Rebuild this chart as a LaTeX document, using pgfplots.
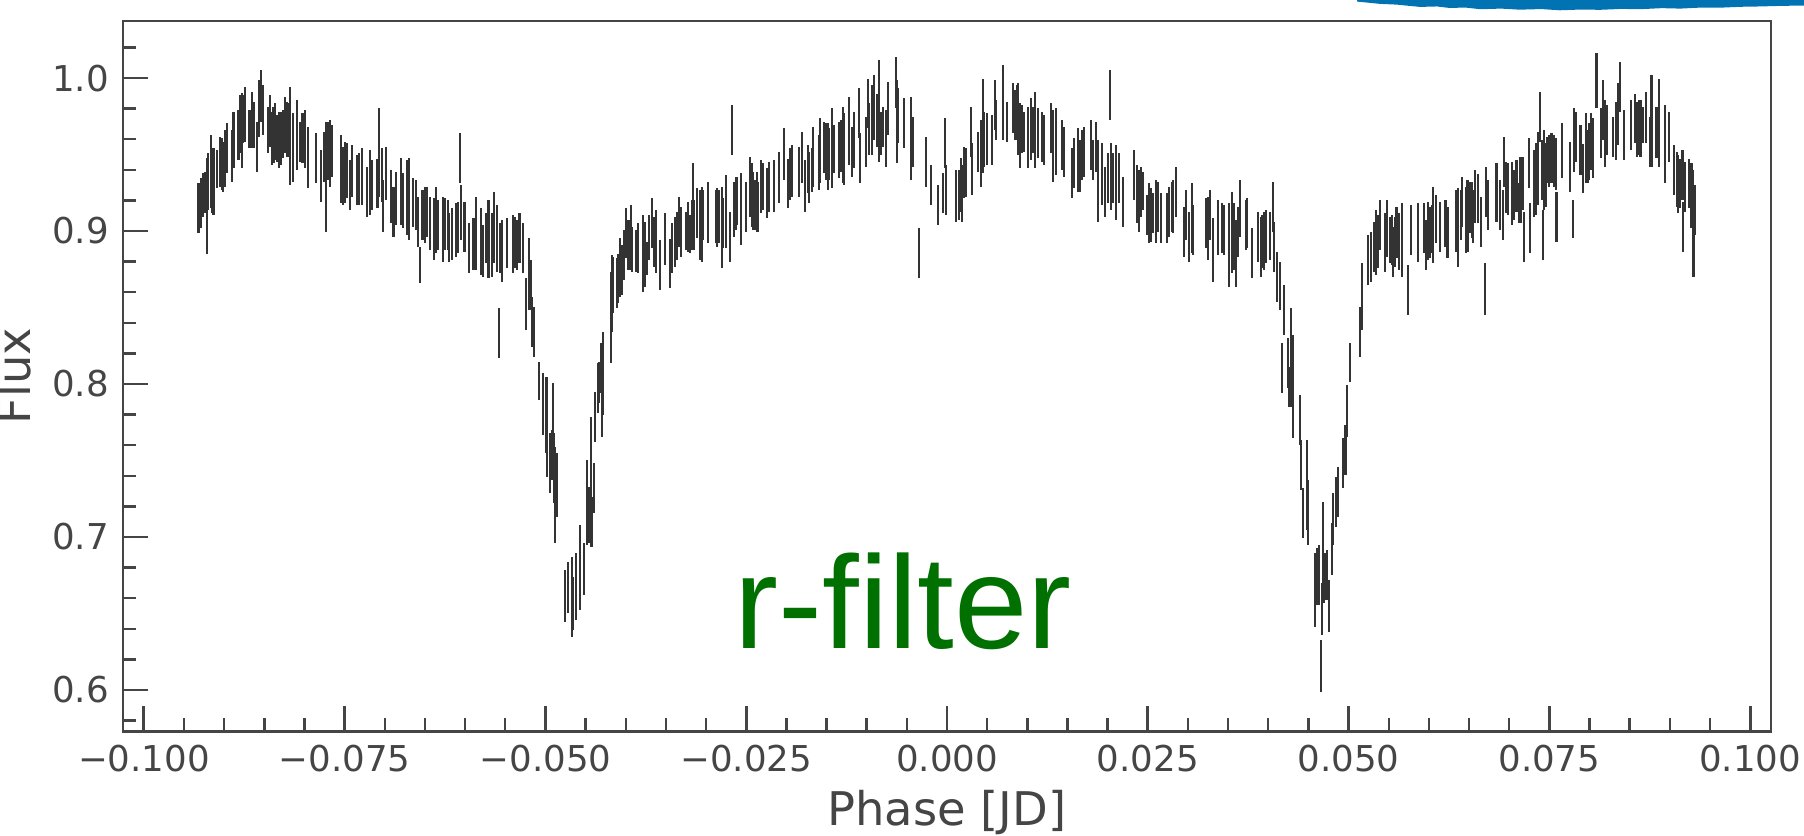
\documentclass[border=0pt]{standalone}
\usepackage{fontspec}
\setmainfont{DejaVu Sans}
\newfontfamily\arialfont{Liberation Sans}
\usepackage{pgfplots}
\pgfplotsset{compat=1.18}
\definecolor{axgray}{HTML}{454545}
\definecolor{barcol}{HTML}{333333}
\definecolor{rfgreen}{HTML}{007000}
\definecolor{cbblue}{HTML}{0173B2}
\pgfplotsset{lcbar/.style={only marks, mark=*, mark size=0pt,
  mark options={draw=none, fill=none},
  error bars/.cd, y dir=both, y explicit, error mark=none,
  error bar style={draw=barcol, line width=0.55pt}}}
\begin{document}
\begin{tikzpicture}
\begin{axis}[
  name=ax, at={(0pt,0pt)}, anchor=south west,
  scale only axis, width=412pt, height=177.6pt,
  xmin=-0.1026, xmax=0.1026, ymin=0.5729, ymax=1.0373,
  clip=false,
  axis line style={axgray, line width=0.7pt},
  tick align=inside,
  xtick pos=left, ytick pos=left,
  xtick={-0.1,-0.075,-0.05,-0.025,0,0.025,0.05,0.075,0.1},
  xticklabels={−0.100,−0.075,−0.050,−0.025,0.000,0.025,0.050,0.075,0.100},
  ytick={0.6,0.7,0.8,0.9,1.0},
  yticklabels={0.6,0.7,0.8,0.9,1.0},
  minor x tick num=4,
  minor ytick={0.58,0.62,0.64,0.66,0.68,0.72,0.74,0.76,0.78,0.82,0.84,0.86,0.88,0.92,0.94,0.96,0.98,1.02},
  major tick length=6.25pt, minor tick length=3.25pt,
  major tick style={axgray, line width=0.7pt},
  minor tick style={axgray, line width=0.6pt},
  tick label style={font=\fontsize{8.9}{10}\selectfont, text=axgray},
  /pgf/number format/assume math mode=true,
  xlabel={Phase [JD]}, ylabel={Flux},
  every axis x label/.style={at={(axis description cs:0.5,-0.1318)}, anchor=base, font=\fontsize{11.6}{13}\selectfont, text=axgray},
  every axis y label/.style={at={(axis description cs:-0.0564,0.5)}, rotate=90, anchor=base, font=\fontsize{11.6}{13}\selectfont, text=axgray},
]
% segment A
\addplot[lcbar] table[x=x,y=y,y error=e] {
x y e
-0.09321 0.9148 0.0163
-0.09292 0.9181 0.0163
-0.09259 0.9235 0.0142
-0.09238 0.9251 0.0136
-0.09217 0.9164 0.0311
-0.09197 0.9322 0.0185
-0.09168 0.9388 0.0240
-0.09147 0.9279 0.0163
-0.09134 0.9322 0.0218
-0.09085 0.9404 0.0125
-0.09051 0.9453 0.0163
-0.09031 0.9437 0.0169
-0.09010 0.9420 0.0163
-0.08993 0.9475 0.0185
-0.08968 0.9540 0.0163
-0.08906 0.9491 0.0169
-0.08885 0.9595 0.0185
-0.08823 0.9627 0.0163
-0.08802 0.9698 0.0191
-0.08782 0.9655 0.0245
-0.08761 0.9731 0.0158
-0.08740 0.9764 0.0180
-0.08686 0.9666 0.0125
-0.08649 0.9725 0.0185
-0.08628 0.9693 0.0153
-0.08595 0.9551 0.0163
-0.08566 0.9802 0.0185
-0.08541 0.9883 0.0169
-0.08520 0.9791 0.0163
-0.08458 0.9660 0.0153
-0.08429 0.9720 0.0169
-0.08408 0.9606 0.0174
-0.08387 0.9627 0.0185
-0.08367 0.9649 0.0185
-0.08338 0.9606 0.0153
-0.08317 0.9595 0.0185
-0.08296 0.9606 0.0174
-0.08271 0.9633 0.0158
-0.08242 0.9693 0.0185
-0.08221 0.9666 0.0180
-0.08201 0.9660 0.0174
-0.08180 0.9622 0.0321
-0.08147 0.9546 0.0223
-0.08089 0.9627 0.0229
-0.08055 0.9584 0.0131
-0.08026 0.9606 0.0163
-0.07993 0.9600 0.0191
-0.07952 0.9480 0.0202
-0.07860 0.9475 0.0163
-0.07798 0.9360 0.0169
-0.07752 0.9486 0.0163
-0.07732 0.9355 0.0360
-0.07711 0.9524 0.0191
-0.07682 0.9508 0.0218
-0.07653 0.9524 0.0169
-0.07549 0.9404 0.0223
-0.07524 0.9360 0.0191
-0.07495 0.9382 0.0202
-0.07466 0.9393 0.0180
-0.07433 0.9301 0.0163
-0.07404 0.9393 0.0169
-0.07350 0.9333 0.0163
-0.07321 0.9339 0.0169
-0.07288 0.9355 0.0185
-0.07217 0.9257 0.0163
-0.07184 0.9317 0.0212
-0.07163 0.9301 0.0163
-0.07092 0.9311 0.0163
-0.07068 0.9513 0.0289
-0.07039 0.9366 0.0174
-0.07018 0.9164 0.0169
-0.06989 0.9377 0.0174
-0.06922 0.9224 0.0174
-0.06893 0.9126 0.0163
-0.06864 0.9213 0.0174
-0.06802 0.9257 0.0218
-0.06769 0.9197 0.0180
-0.06719 0.9219 0.0245
-0.06694 0.9208 0.0267
-0.06652 0.9186 0.0158
-0.06611 0.9170 0.0163
-0.06582 0.9061 0.0163
-0.06561 0.8778 0.0120
-0.06532 0.9104 0.0163
-0.06499 0.9104 0.0185
-0.06470 0.9126 0.0163
-0.06437 0.9050 0.0174
-0.06387 0.9012 0.0202
-0.06362 0.9072 0.0218
-0.06345 0.9039 0.0163
-0.06271 0.9012 0.0212
-0.06250 0.9045 0.0169
-0.06217 0.9039 0.0163
-0.06196 0.8957 0.0158
-0.06167 0.8979 0.0169
-0.06117 0.9006 0.0174
-0.06092 0.9023 0.0169
-0.06063 0.9475 0.0163
-0.06055 0.9121 0.0180
-0.06009 0.9028 0.0163
-0.05951 0.8887 0.0163
-0.05897 0.8914 0.0169
-0.05868 0.8985 0.0240
-0.05806 0.8930 0.0218
-0.05773 0.8870 0.0169
-0.05744 0.8952 0.0163
-0.05710 0.8946 0.0256
};
% segment B: first eclipse
\addplot[lcbar] table[x=x,y=y,y error=e] {
x y e
-0.05669 0.8908 0.0207
-0.05640 0.9023 0.0234
-0.05607 0.8952 0.0218
-0.05574 0.8331 0.0163
-0.05565 0.8887 0.0163
-0.05544 0.8870 0.0202
-0.05482 0.8919 0.0163
-0.05408 0.8914 0.0191
-0.05378 0.8925 0.0169
-0.05358 0.8908 0.0163
-0.05324 0.8952 0.0163
-0.05283 0.8887 0.0163
-0.05242 0.8522 0.0169
-0.05200 0.8718 0.0234
-0.05183 0.8647 0.0163
-0.05163 0.8407 0.0163
-0.05138 0.8342 0.0163
-0.05076 0.8020 0.0125
-0.05026 0.7868 0.0202
-0.04993 0.7797 0.0251
-0.04976 0.7721 0.0327
-0.04943 0.7481 0.0196
-0.04922 0.7536 0.0163
-0.04901 0.7841 0.0163
-0.04897 0.7448 0.0229
-0.04880 0.7274 0.0316
-0.04860 0.7339 0.0207
-0.04756 0.6615 0.0169
-0.04723 0.6669 0.0169
-0.04673 0.6609 0.0261
-0.04652 0.6566 0.0174
-0.04619 0.6675 0.0218
-0.04569 0.6800 0.0278
-0.04515 0.6789 0.0169
-0.04478 0.7225 0.0278
-0.04461 0.7143 0.0185
-0.04436 0.7579 0.0207
-0.04432 0.7154 0.0218
-0.04420 0.7100 0.0163
-0.04395 0.7318 0.0163
-0.04382 0.7786 0.0163
-0.04349 0.7971 0.0163
-0.04333 0.8010 0.0136
-0.04312 0.8102 0.0163
-0.04299 0.7841 0.0185
-0.04279 0.8069 0.0272
-0.04187 0.8434 0.0300
-0.04171 0.8592 0.0251
-0.04154 0.8647 0.0185
-0.04113 0.8658 0.0163
-0.04092 0.8690 0.0163
-0.04071 0.8761 0.0191
-0.04042 0.8745 0.0163
-0.04021 0.8843 0.0163
-0.04001 0.8985 0.0163
-0.03967 0.8908 0.0163
-0.03938 0.8957 0.0212
-0.03918 0.8881 0.0147
-0.03876 0.8870 0.0136
-0.03851 0.8887 0.0163
-0.03781 0.8854 0.0251
-0.03760 0.8848 0.0212
-0.03739 0.8821 0.0109
-0.03710 0.8957 0.0147
-0.03669 0.9050 0.0163
-0.03644 0.8930 0.0163
-0.03623 0.8930 0.0207
-0.03573 0.8778 0.0163
-0.03511 0.8946 0.0169
};
% segment C
\addplot[lcbar] table[x=x,y=y,y error=e] {
x y e
-0.03449 0.8785 0.0160
-0.03420 0.8887 0.0163
-0.03386 0.8930 0.0163
-0.03366 0.8968 0.0158
-0.03337 0.9061 0.0163
-0.03312 0.8995 0.0163
-0.03250 0.9001 0.0125
-0.03220 0.9028 0.0163
-0.03200 0.8979 0.0125
-0.03179 0.9039 0.0163
-0.03158 0.9279 0.0163
-0.03154 0.9039 0.0163
-0.03117 0.9115 0.0163
-0.03075 0.9039 0.0229
-0.03054 0.9045 0.0245
-0.03034 0.9104 0.0163
-0.02971 0.9121 0.0202
-0.02876 0.9094 0.0174
-0.02859 0.9088 0.0191
-0.02834 0.9094 0.0174
-0.02805 0.9023 0.0267
-0.02785 0.9050 0.0163
-0.02751 0.9126 0.0240
-0.02702 0.8963 0.0163
-0.02681 0.9660 0.0163
-0.02652 0.9143 0.0180
-0.02627 0.9181 0.0174
-0.02610 0.9197 0.0158
-0.02569 0.9143 0.0234
-0.02502 0.9159 0.0163
-0.02453 0.9290 0.0196
-0.02432 0.9235 0.0207
-0.02411 0.9197 0.0191
-0.02390 0.9170 0.0163
-0.02370 0.9192 0.0196
-0.02349 0.9159 0.0163
-0.02320 0.9290 0.0174
-0.02287 0.9290 0.0153
-0.02245 0.9246 0.0163
-0.02216 0.9290 0.0163
-0.02154 0.9295 0.0169
-0.02092 0.9350 0.0169
-0.02029 0.9502 0.0169
-0.01975 0.9311 0.0163
-0.01955 0.9371 0.0169
-0.01926 0.9393 0.0169
-0.01838 0.9388 0.0163
-0.01809 0.9480 0.0169
-0.01768 0.9295 0.0169
-0.01735 0.9404 0.0158
-0.01714 0.9350 0.0169
-0.01685 0.9399 0.0142
-0.01664 0.9486 0.0196
-0.01594 0.9448 0.0180
-0.01581 0.9524 0.0212
-0.01531 0.9546 0.0169
-0.01506 0.9518 0.0185
-0.01486 0.9486 0.0218
-0.01465 0.9502 0.0169
-0.01436 0.9540 0.0261
-0.01403 0.9535 0.0158
-0.01340 0.9529 0.0185
-0.01320 0.9557 0.0169
-0.01299 0.9562 0.0251
-0.01278 0.9535 0.0234
-0.01224 0.9655 0.0223
-0.01187 0.9518 0.0163
-0.01158 0.9595 0.0185
-0.01091 0.9769 0.0163
-0.01087 0.9475 0.0163
-0.01008 0.9584 0.0163
-0.00988 0.9834 0.0163
-0.00967 0.9666 0.0169
-0.00930 0.9725 0.0229
-0.00909 0.9807 0.0212
-0.00876 0.9725 0.0174
-0.00847 0.9954 0.0163
-0.00842 0.9622 0.0169
-0.00826 0.9638 0.0142
-0.00793 0.9682 0.0131
-0.00764 0.9606 0.0185
-0.00739 0.9802 0.0174
-0.00635 0.9971 0.0169
-0.00627 0.9715 0.0272
-0.00606 0.9753 0.0180
-0.00531 0.9704 0.0163
-0.00448 0.9606 0.0272
-0.00427 0.9584 0.0163
-0.00344 0.8854 0.0163
-0.00261 0.9453 0.0163
-0.00203 0.9301 0.0131
-0.00116 0.9170 0.0131
};
% segment D
\addplot[lcbar] table[x=x,y=y,y error=e] {
x y e
-0.00054 0.9246 0.0131
-0.00025 0.9573 0.0163
-0.00012 0.9268 0.0163
0.00112 0.9230 0.0169
0.00149 0.9235 0.0163
0.00174 0.9301 0.0174
0.00191 0.9246 0.0185
0.00216 0.9382 0.0169
0.00232 0.9382 0.0158
0.00295 0.9649 0.0163
0.00315 0.9404 0.0169
0.00390 0.9518 0.0131
0.00419 0.9508 0.0218
0.00444 0.9834 0.0163
0.00448 0.9540 0.0163
0.00465 0.9600 0.0180
0.00494 0.9600 0.0169
0.00556 0.9595 0.0163
0.00598 0.9823 0.0163
0.00606 0.9725 0.0131
0.00693 0.9922 0.0163
0.00701 0.9725 0.0131
0.00743 0.9715 0.0131
0.00826 0.9802 0.0163
0.00847 0.9758 0.0163
0.00867 0.9774 0.0180
0.00888 0.9731 0.0234
0.00909 0.9622 0.0212
0.00930 0.9666 0.0158
0.00963 0.9649 0.0131
0.01013 0.9611 0.0202
0.01042 0.9666 0.0202
0.01067 0.9660 0.0153
0.01096 0.9660 0.0251
0.01129 0.9638 0.0163
0.01179 0.9616 0.0163
0.01208 0.9595 0.0163
0.01295 0.9671 0.0163
0.01324 0.9557 0.0234
0.01357 0.9584 0.0218
0.01428 0.9562 0.0163
0.01457 0.9518 0.0163
0.01560 0.9377 0.0163
0.01581 0.9442 0.0163
0.01627 0.9464 0.0207
0.01656 0.9426 0.0169
0.01677 0.9497 0.0163
0.01706 0.9518 0.0163
0.01793 0.9562 0.0163
0.01822 0.9464 0.0131
0.01855 0.9551 0.0163
0.01876 0.9328 0.0267
0.01926 0.9371 0.0202
0.01967 0.9257 0.0163
0.02009 0.9344 0.0163
0.02029 0.9889 0.0163
0.02042 0.9355 0.0218
0.02071 0.9344 0.0163
0.02100 0.9317 0.0245
0.02141 0.9344 0.0163
0.02187 0.9192 0.0163
0.02328 0.9366 0.0163
0.02361 0.9241 0.0191
0.02390 0.9197 0.0202
0.02411 0.9257 0.0163
0.02436 0.9262 0.0125
0.02486 0.9104 0.0131
0.02519 0.9115 0.0196
0.02540 0.9104 0.0174
0.02569 0.9115 0.0131
0.02602 0.9126 0.0207
0.02631 0.9159 0.0163
0.02660 0.9083 0.0163
0.02735 0.9083 0.0163
0.02764 0.9126 0.0163
0.02805 0.9159 0.0163
0.02818 0.9159 0.0174
0.02847 0.9257 0.0163
0.02951 0.8995 0.0163
0.02976 0.9104 0.0163
0.03013 0.8963 0.0163
0.03046 0.9083 0.0229
0.03067 0.9006 0.0163
0.03225 0.9050 0.0163
0.03254 0.9017 0.0207
0.03274 0.9104 0.0163
0.03308 0.8876 0.0207
0.03378 0.9023 0.0180
0.03420 0.9017 0.0163
0.03449 0.9006 0.0163
0.03515 0.8908 0.0272
0.03544 0.8990 0.0267
0.03573 0.8963 0.0218
0.03598 0.8854 0.0218
0.03627 0.8995 0.0163
0.03648 0.9148 0.0185
};
% segment E: second eclipse
\addplot[lcbar] table[x=x,y=y,y error=e] {
x y e
0.03723 0.9039 0.0163
0.03739 0.9050 0.0163
0.03793 0.8854 0.0163
0.03876 0.8963 0.0163
0.03905 0.8897 0.0196
0.03926 0.8930 0.0174
0.03947 0.8936 0.0191
0.03967 0.8963 0.0174
0.04021 0.8968 0.0158
0.04055 0.9159 0.0163
0.04075 0.8897 0.0163
0.04104 0.8701 0.0163
0.04146 0.8641 0.0158
0.04167 0.8102 0.0163
0.04200 0.8483 0.0163
0.04241 0.8135 0.0163
0.04262 0.7982 0.0131
0.04279 0.8331 0.0163
0.04283 0.8010 0.0158
0.04304 0.8151 0.0169
0.04308 0.7813 0.0169
0.04395 0.7764 0.0163
0.04403 0.7470 0.0163
0.04436 0.7154 0.0163
0.04478 0.7339 0.0294
0.04499 0.7160 0.0212
0.04582 0.6653 0.0240
0.04602 0.6740 0.0185
0.04636 0.6751 0.0196
0.04652 0.6157 0.0169
0.04665 0.6528 0.0169
0.04685 0.7062 0.0169
0.04689 0.6729 0.0163
0.04710 0.6740 0.0153
0.04735 0.6751 0.0163
0.04760 0.6550 0.0169
0.04789 0.6920 0.0169
0.04810 0.7116 0.0169
0.04843 0.7231 0.0163
0.04872 0.7296 0.0163
0.04926 0.7481 0.0163
0.04963 0.7568 0.0163
0.04984 0.7824 0.0169
0.05017 0.8140 0.0125
0.05142 0.8342 0.0163
0.05163 0.8571 0.0218
0.05246 0.8810 0.0163
0.05275 0.8832 0.0163
0.05320 0.8897 0.0163
0.05341 0.8925 0.0212
0.05370 0.8930 0.0174
0.05391 0.9039 0.0163
0.05457 0.8925 0.0191
0.05474 0.9017 0.0185
0.05515 0.8941 0.0153
0.05536 0.8941 0.0163
0.05557 0.8865 0.0163
0.05578 0.8930 0.0163
0.05598 0.8990 0.0169
0.05623 0.8930 0.0185
};
% segment F
\addplot[lcbar] table[x=x,y=y,y error=e] {
x y e
0.05661 0.8941 0.0240
0.05744 0.8614 0.0163
0.05773 0.9006 0.0163
0.05868 0.8990 0.0191
0.05939 0.9017 0.0163
0.05964 0.8908 0.0163
0.05993 0.9001 0.0191
0.06013 0.8990 0.0169
0.06034 0.9012 0.0158
0.06055 0.9039 0.0251
0.06084 0.9077 0.0158
0.06138 0.9028 0.0163
0.06208 0.9050 0.0153
0.06233 0.8990 0.0169
0.06337 0.9066 0.0202
0.06366 0.9023 0.0256
0.06395 0.9104 0.0163
0.06416 0.9192 0.0163
0.06462 0.9072 0.0218
0.06482 0.9099 0.0234
0.06511 0.9153 0.0169
0.06532 0.9137 0.0185
0.06553 0.9094 0.0174
0.06574 0.9224 0.0174
0.06615 0.9213 0.0163
0.06648 0.9061 0.0163
0.06698 0.8620 0.0169
0.06711 0.9257 0.0163
0.06740 0.9170 0.0163
0.06843 0.9251 0.0191
0.06885 0.9170 0.0163
0.06918 0.9104 0.0163
0.06939 0.9453 0.0163
0.06960 0.9284 0.0169
0.06989 0.9273 0.0169
0.07030 0.9246 0.0207
0.07059 0.9235 0.0163
0.07092 0.9295 0.0169
0.07121 0.9181 0.0131
0.07142 0.9268 0.0218
0.07175 0.9311 0.0174
0.07184 0.8963 0.0163
0.07250 0.9442 0.0163
0.07259 0.9017 0.0163
0.07308 0.9311 0.0218
0.07333 0.9339 0.0234
0.07354 0.9409 0.0240
0.07383 0.9747 0.0163
0.07404 0.9399 0.0196
0.07416 0.8974 0.0163
0.07429 0.9399 0.0261
0.07454 0.9366 0.0207
0.07474 0.9464 0.0153
0.07495 0.9459 0.0169
0.07528 0.9475 0.0163
0.07557 0.9459 0.0169
0.07578 0.9437 0.0169
0.07590 0.9094 0.0163
0.07661 0.9524 0.0180
0.07757 0.9420 0.0163
0.07790 0.9077 0.0125
0.07806 0.9595 0.0207
0.07831 0.9616 0.0163
0.07889 0.9529 0.0163
0.07922 0.9409 0.0163
0.07952 0.9540 0.0229
0.07976 0.9486 0.0174
0.07997 0.9518 0.0185
0.08018 0.9584 0.0185
0.08047 0.9540 0.0196
0.08088 0.9981 0.0180
0.08142 0.9638 0.0163
0.08171 0.9791 0.0196
0.08192 0.9638 0.0218
0.08213 0.9660 0.0163
0.08288 0.9616 0.0131
0.08329 0.9655 0.0191
0.08358 0.9764 0.0202
0.08379 0.9943 0.0163
0.08429 0.9627 0.0163
0.08512 0.9693 0.0163
0.08566 0.9736 0.0163
0.08595 0.9666 0.0180
0.08620 0.9676 0.0180
0.08636 0.9671 0.0185
0.08661 0.9693 0.0120
0.08699 0.9742 0.0169
0.08752 0.9584 0.0163
0.08773 0.9856 0.0163
0.08777 0.9584 0.0163
0.08835 0.9644 0.0169
0.08865 0.9834 0.0163
0.08869 0.9584 0.0163
0.08939 0.9567 0.0256
0.08993 0.9616 0.0163
0.09051 0.9399 0.0163
0.09085 0.9339 0.0180
0.09105 0.9306 0.0191
0.09126 0.9311 0.0163
0.09159 0.9366 0.0163
0.09163 0.9028 0.0163
0.09188 0.9290 0.0163
0.09242 0.9311 0.0163
0.09271 0.9230 0.0212
0.09292 0.9213 0.0185
0.09296 0.8865 0.0163
0.09313 0.9137 0.0163
};
% blue strip at the top edge (part of a neighbouring panel)
\addplot[fill=cbblue, draw=none] coordinates {
(0.05105,1.0500) (0.0539,1.0485) (0.0560,1.0480) (0.0589,1.0465) (0.0610,1.0468)
(0.0626,1.0458) (0.0645,1.0461) (0.0664,1.0450) (0.0690,1.0454) (0.0713,1.0447)
(0.0740,1.0451) (0.0763,1.0443) (0.0790,1.0448) (0.0813,1.0446) (0.0840,1.0452)
(0.0863,1.0450) (0.0890,1.0457) (0.0913,1.0454) (0.0940,1.0461) (0.0962,1.0460)
(0.0990,1.0466) (0.1012,1.0468) (0.1040,1.0472) (0.1067,1.0474) (0.1100,1.0474)
(0.1100,1.0600) (0.05105,1.0600)};
\node[anchor=base west, inner sep=0pt, text=rfgreen, font=\arialfont\fontsize{33}{33}\selectfont] at (axis cs:-0.02657,0.6268) {r-filter};
\end{axis}
\pgfresetboundingbox
\path[use as bounding box] ([shift={(-30.75pt,-26.1pt)}]ax.south west) rectangle ([shift={(8.25pt,5.25pt)}]ax.north east);
\end{tikzpicture}
\end{document}
